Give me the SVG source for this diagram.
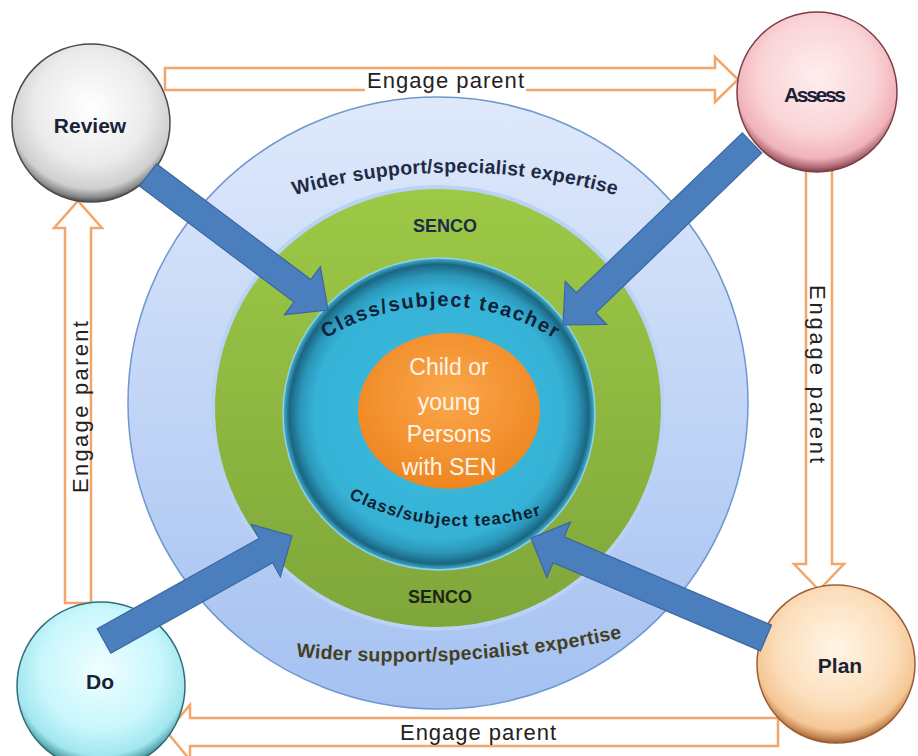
<svg xmlns="http://www.w3.org/2000/svg" width="918" height="756" viewBox="0 0 918 756">
<style>
.eng{fill:#fff;stroke:#f4a56a;stroke-width:2.5;stroke-linejoin:miter}
.engt{font-family:"Liberation Sans",Arial,sans-serif;font-size:22px;fill:#222}
.blue{fill:#4a7ebd;stroke:#3a66a2;stroke-width:1.2;stroke-linejoin:miter}
.nodet{font-family:"Liberation Sans",Arial,sans-serif;font-size:21px;font-weight:bold;fill:#1b2236;text-anchor:middle}
.ring{font-family:"Liberation Sans",Arial,sans-serif;font-weight:bold}
.child{font-family:"Liberation Sans",Arial,sans-serif;font-size:23px;fill:#fff4e8;text-anchor:middle}
</style>
<defs>
<linearGradient id="gOuter" x1="0" y1="0" x2="0" y2="1">
<stop offset="0" stop-color="#dfe9fb"/><stop offset="1" stop-color="#a4c1f1"/>
</linearGradient>
<linearGradient id="gGreen" x1="0" y1="0" x2="0" y2="1">
<stop offset="0" stop-color="#9dc946"/><stop offset="1" stop-color="#7fa63a"/>
</linearGradient>
<radialGradient id="gTeal" cx="0.5" cy="0.5" r="0.5">
<stop offset="0" stop-color="#3dbde0"/><stop offset="0.8" stop-color="#35b2d6"/><stop offset="0.89" stop-color="#2b97ba"/><stop offset="0.96" stop-color="#1a6681"/><stop offset="1" stop-color="#45b3d6"/>
</radialGradient>
<radialGradient id="gOrange" cx="0.5" cy="0.4" r="0.6">
<stop offset="0" stop-color="#fba74c"/><stop offset="1" stop-color="#ee8620"/>
</radialGradient>
<radialGradient id="gReview" cx="0.5" cy="0.4" r="0.6">
<stop offset="0" stop-color="#ffffff"/><stop offset="0.6" stop-color="#ebebeb"/><stop offset="0.86" stop-color="#cfcfcf"/><stop offset="0.95" stop-color="#8a8a8a"/><stop offset="1" stop-color="#4a4a4a"/>
</radialGradient>
<radialGradient id="gAssess" cx="0.5" cy="0.4" r="0.6">
<stop offset="0" stop-color="#feeeee"/><stop offset="0.6" stop-color="#fad4d7"/><stop offset="0.86" stop-color="#f0b3b9"/><stop offset="0.95" stop-color="#b06c76"/><stop offset="1" stop-color="#7a3d47"/>
</radialGradient>
<radialGradient id="gDo" cx="0.5" cy="0.4" r="0.6">
<stop offset="0" stop-color="#f0feff"/><stop offset="0.6" stop-color="#c8f7fc"/><stop offset="0.86" stop-color="#a2e6ef"/><stop offset="0.95" stop-color="#5aa6ae"/><stop offset="1" stop-color="#2f6f77"/>
</radialGradient>
<radialGradient id="gPlan" cx="0.5" cy="0.4" r="0.6">
<stop offset="0" stop-color="#fff5e6"/><stop offset="0.6" stop-color="#fcdfbc"/><stop offset="0.86" stop-color="#f5c796"/><stop offset="0.95" stop-color="#c98a55"/><stop offset="1" stop-color="#9a5e34"/>
</radialGradient>
<path id="pWideTop" d="M 288 197 A 582 582 0 0 1 622 197"/>
<path id="pClassTop" d="M 316 345 A 217 217 0 0 1 564 345"/>
<path id="pClassBot" d="M 343 495 A 257 257 0 0 0 547 513"/>
<path id="pWideBot" d="M 292 656 A 1031 1031 0 0 0 626 637"/>
</defs>
<rect width="918" height="756" fill="#fff"/>

<g id="core">
<ellipse cx="438" cy="403" rx="310" ry="306" fill="url(#gOuter)" stroke="#6f98cf" stroke-width="1.5"/>
<ellipse cx="438" cy="408" rx="225" ry="221" fill="url(#gGreen)" stroke="#b9d3f7" stroke-width="4"/>
<circle cx="439" cy="414" r="156" fill="url(#gTeal)" stroke="#8fd2ea" stroke-width="1.5"/>
<ellipse cx="449" cy="411" rx="91" ry="78" fill="url(#gOrange)"/>
<text class="child" x="449" y="375">Child or</text>
<text class="child" x="449" y="410">young</text>
<text class="child" x="449" y="442">Persons</text>
<text class="child" x="449" y="475">with SEN</text>
<text class="ring" font-size="19.5" fill="#1f2a44" text-anchor="middle"><textPath href="#pWideTop" startOffset="50%" textLength="326">Wider support/specialist expertise</textPath></text>
<text class="ring" font-size="18" fill="#1e2a48" x="445" y="232" text-anchor="middle">SENCO</text>
<text class="ring" font-size="20" fill="#10203a" text-anchor="middle"><textPath href="#pClassTop" startOffset="50%" textLength="240">Class/subject teacher</textPath></text>
<text class="ring" font-size="17" fill="#10202e" text-anchor="middle"><textPath href="#pClassBot" startOffset="50%" textLength="198">Class/subject teacher</textPath></text>
<text class="ring" font-size="18" fill="#1e2418" x="440" y="603" text-anchor="middle">SENCO</text>
<text class="ring" font-size="19.5" fill="#453f22" text-anchor="middle"><textPath href="#pWideBot" startOffset="50%" textLength="328">Wider support/specialist expertise</textPath></text>
</g>

<g id="engage-connectors">
<polygon class="eng" points="165,68 715,68 715,57 738,79.5 715,102 715,90 165,90"/>
<rect x="365" y="71" width="161" height="24" fill="#fff"/>
<text class="engt" x="445.5" y="88" text-anchor="middle" textLength="157">Engage parent</text>
<polygon class="eng" points="806,168 832,168 832,564 844,564 819,590 794,564 806,564"/>
<text class="engt" transform="translate(810,374) rotate(90)" text-anchor="middle" textLength="178">Engage parent</text>
<polygon class="eng" points="65,603 91,603 91,228 102,228 78,201 54,228 65,228"/>
<text class="engt" transform="translate(88,407) rotate(-90)" text-anchor="middle" textLength="172">Engage parent</text>
<polygon class="eng" points="778,718 778,746 190,746 190,760 167,732 190,705 190,718"/>
<text class="engt" x="478" y="740" text-anchor="middle" textLength="156">Engage parent</text>
</g>

<g id="review">
<circle cx="91" cy="123" r="79" fill="url(#gReview)" stroke="#4a4a4a" stroke-width="1.5"/>
<text class="nodet" x="90" y="133">Review</text>
</g>
<g id="assess">
<circle cx="817" cy="92" r="80" fill="url(#gAssess)" stroke="#7a3d47" stroke-width="1.5"/>
<text class="nodet" x="815" y="102" textLength="62">Assess</text>
</g>
<g id="do">
<circle cx="101" cy="686" r="84" fill="url(#gDo)" stroke="#2f6f77" stroke-width="1.5"/>
<text class="nodet" x="100" y="689">Do</text>
</g>
<g id="plan">
<circle cx="836" cy="664" r="79" fill="url(#gPlan)" stroke="#9a5e34" stroke-width="1.5"/>
<text class="nodet" x="840" y="673">Plan</text>
</g>

<g id="connectors">
<polygon class="blue" points="156.4,163.8 310.8,279.6 320.4,266.8 328,310 284.4,314.8 294,302 139.6,186.2"/>
<polygon class="blue" points="742.3,132.9 576.3,292.7 565.2,281.2 563,325 606.8,324.4 595.7,312.9 761.7,153.1"/>
<polygon class="blue" points="97.2,628.8 259,538.4 251.2,524.4 292,536 280.4,576.8 272.6,562.8 110.8,653.2"/>
<polygon class="blue" points="771.5,625.1 564.1,536.9 570.4,522.2 531,538 546.8,577.4 553.1,562.7 760.5,650.9"/>
</g>
</svg>
